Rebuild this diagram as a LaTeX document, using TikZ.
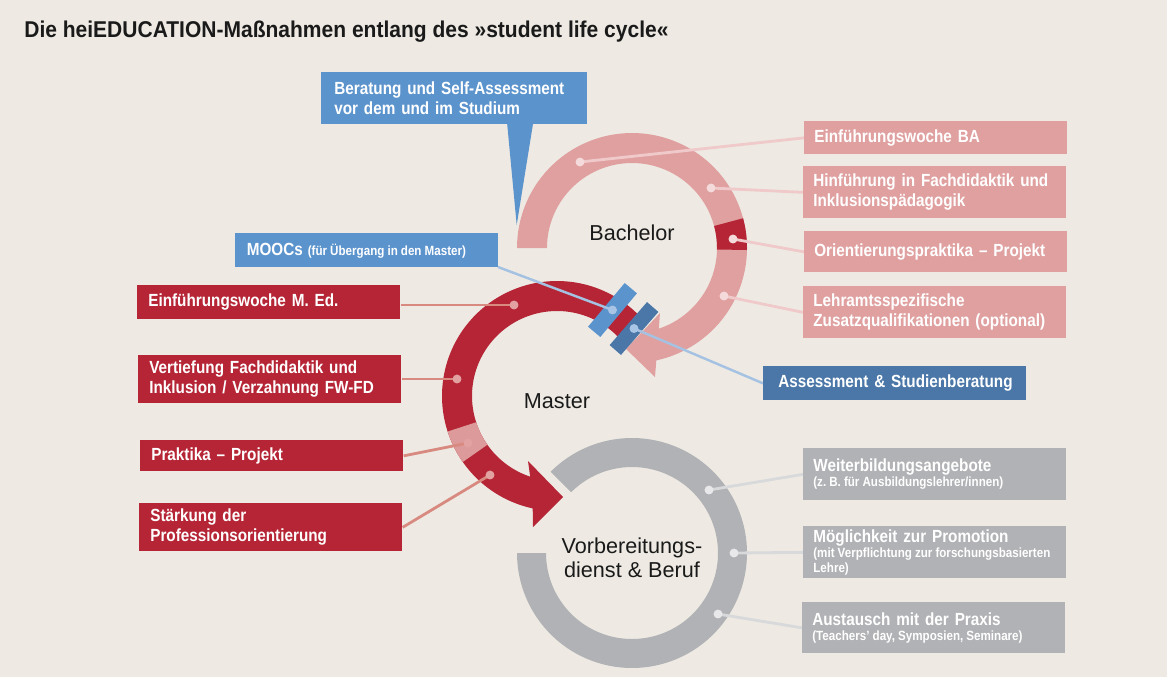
\documentclass[tikz,border=0pt]{standalone}
\usepackage{fontspec}
\setmainfont{Liberation Sans}
\newfontfamily\condf{Liberation Sans}[FakeStretch=0.87]
\newfontfamily\titlef{Liberation Sans}[FakeStretch=0.92]
\newcommand\bxfont{\condf\bfseries\fontsize{10}{11.4}\selectfont\frenchspacing\spaceskip=0.23em plus 0.1em minus 0.05em\relax}
\newcommand\smfont[1]{\fontsize{7.6}{#1}\selectfont\spaceskip=0.23em plus 0.1em minus 0.05em\relax}
\usetikzlibrary{calc}
\definecolor{bgc}{HTML}{EEEAE3}
\definecolor{bachc}{HTML}{E0A0A0}
\definecolor{redc}{HTML}{B52535}
\definecolor{lredc}{HTML}{DC9A9A}
\definecolor{bluec}{HTML}{5B93CD}
\definecolor{dbluec}{HTML}{4A77A8}
\definecolor{grayc}{HTML}{B1B2B5}
\definecolor{bachline}{HTML}{F0CACA}
\definecolor{bachdot}{HTML}{F4DADA}
\definecolor{mline}{HTML}{D88A80}
\definecolor{mdot}{HTML}{E2A2A2}
\definecolor{blline}{HTML}{A6C2E2}
\definecolor{bldot}{HTML}{A9C5E5}
\definecolor{gline}{HTML}{D8D9DB}
\definecolor{gdot}{HTML}{E8E8EA}
\definecolor{inkc}{HTML}{1A1A1A}
\pgfdeclarelayer{back}
\pgfdeclarelayer{mid}
\pgfsetlayers{back,mid,main}
\begin{document}
\begin{tikzpicture}[x=0.02cm,y=-0.02cm,
  boxbase/.style={rectangle, anchor=north west, inner ysep=0pt, align=left, text=white,
    font=\bxfont},
  rbox/.style={boxbase, fill=bachc, inner xsep=5.69pt, text width=138.28pt},
  gbox/.style={boxbase, fill=grayc, inner xsep=5.69pt, text width=138.28pt},
  lbox/.style={boxbase, fill=redc, inner xsep=6.26pt, text width=137.14pt},
  dotst/.style={circle, inner sep=0pt, minimum size=5.1pt},
  bachln/.style={draw=bachline, line width=1.6pt},
  mln/.style={draw=mline, line width=1.6pt},
  bluln/.style={draw=blline, line width=1.4pt},
  grln/.style={draw=gline, line width=1.6pt},
  ringlabel/.style={text=inkc, font=\fontsize{12.3}{14}\selectfont, inner sep=0pt}
]
\useasboundingbox (0,0) rectangle (1167,677);
\begin{pgfonlayer}{back}
\fill[bgc] (0,0) rectangle (1167,677);
% Bachelor ring
\begin{scope}[shift={(632,248)}]
\fill[bachc] plot[domain=-180:77.8,samples=120] (\x:115) -- (23,129) -- (-6,101) -- (28,65)
  -- plot[domain=71.6:-180,samples=120] (\x:85) -- cycle;
\fill[redc] plot[domain=-15:1,samples=20] (\x:115) -- plot[domain=1:-15,samples=20] (\x:85) -- cycle;
\end{scope}
% Master ring
\begin{scope}[shift={(557,396)}]
\fill[redc] plot[domain=-42:-257.8,samples=120] (\x:115) -- (-24,131) -- (6,101) -- (-29,65)
  -- plot[domain=-251.6:-42,samples=120] (\x:85) -- cycle;
\fill[lredc] plot[domain=-215:-198,samples=20] (\x:115) -- plot[domain=-198:-215,samples=20] (\x:85) -- cycle;
\end{scope}
% Vorbereitungsdienst ring
\begin{scope}[shift={(632,553)}]
\fill[grayc] plot[domain=-135:180,samples=150] (\x:115) -- plot[domain=180:-135,samples=150] (\x:86) -- cycle;
\end{scope}
% crossing rectangles
\node[fill=bluec, minimum width=32.44pt, minimum height=9.1pt, inner sep=0pt, rotate=50] (lrect) at (612.5,310) {};
\node[fill=dbluec, minimum width=32.44pt, minimum height=8.54pt, inner sep=0pt, rotate=49] (drect) at (634,328.5) {};
\end{pgfonlayer}

% title
\node[anchor=base west, inner sep=0pt, text=inkc, font=\titlef\bfseries\fontsize{13}{15}\selectfont] (title) at (24,37.5)
  {Die heiEDUCATION-Maßnahmen entlang des »student life cycle«};

% callout
\fill[bluec] (507,122) -- (516.7,225) -- (533.3,122) -- cycle;
\node[boxbase, fill=bluec, inner xsep=7.4pt, text width=136.57pt, minimum height=29.59pt] (callout) at (321,72)
  {\mbox{Beratung und Self-Assessment}\\vor dem und im Studium};

% ring labels
\node[ringlabel] (bachelor) at (632,233) {Bachelor};
\node[ringlabel] (master) at (557,401) {Master};
\node[ringlabel, align=center, font=\fontsize{12.3}{13.8}\selectfont] (vorb) at (632,558) {Vorbereitungs-\\dienst \& Beruf};

% right pink boxes
\node[rbox, minimum height=18.78pt] (rb1) at (804,121) {Einführungswoche BA};
\node[rbox, minimum height=29.59pt] (rb2) at (803,166) {\mbox{Hinführung in Fachdidaktik und}\\Inklusionspädagogik};
\node[rbox, minimum height=23.33pt] (rb3) at (804,231) {Orientierungspraktika – Projekt};
\node[rbox, minimum height=29.59pt] (rb4) at (803,286) {Lehramtsspezifische\\\mbox{Zusatzqualifikationen (optional)}};

% assessment
\node[boxbase, fill=dbluec, inner xsep=8.54pt, text width=132.59pt, minimum height=19.35pt] (assess) at (763,366)
  {\mbox{Assessment \& Studienberatung}};

% gray boxes
\node[gbox, minimum height=29.59pt] (gw) at (803,448)
  {Weiterbildungsangebote\par{\smfont{8.7}\mbox{(z. B. für Ausbildungslehrer/innen)}\par}};
\node[gbox, minimum height=29.59pt] (gm) at (803,526)
  {Möglichkeit zur Promotion\par{\smfont{8.5}\mbox{(mit Verpflichtung zur forschungsbasierten}\\Lehre)\par}};
\node[gbox, minimum height=29.02pt] (ga) at (802,602)
  {Austausch mit der Praxis\par{\smfont{8.7}\mbox{(Teachers’ day, Symposien, Seminare)}\par}};

% MOOCs box
\fill[bluec] (235,233) rectangle (498,267);
\coordinate (moocsSE) at (498,267);
\node[anchor=base west, inner sep=0pt, text=white, font=\bxfont] (moocs) at (246.5,255.5)
  {MOOCs\hspace{2.8pt}{\smfont{9}(für Übergang in den Master)}};

% left boxes
\node[lbox, minimum height=19.35pt] (lb1) at (137,285) {Einführungswoche M. Ed.};
\node[lbox, minimum height=27.31pt] (lb2) at (138,355) {\mbox{Vertiefung Fachdidaktik und}\\\mbox{Inklusion / Verzahnung FW-FD}};
\node[lbox, minimum height=17.64pt] (lb3) at (140,440) {Praktika – Projekt};
\node[lbox, minimum height=27.31pt] (lb4) at (139,503) {Stärkung der\\Professionsorientierung};

% dots
\node[dotst, fill=bachdot] (bd1) at (580,162) {};
\node[dotst, fill=bachdot] (bd2) at (711,188) {};
\node[dotst, fill=bachdot] (bd3) at (733,239) {};
\node[dotst, fill=bachdot] (bd4) at (724,296) {};
\node[dotst, fill=mdot] (md1) at (514,305) {};
\node[dotst, fill=mdot] (md2) at (457,379) {};
\node[dotst, fill=mdot] (md3) at (468,443) {};
\node[dotst, fill=mdot] (md4) at (490,475) {};
\node[dotst, fill=gdot] (gd1) at (709,490) {};
\node[dotst, fill=gdot] (gd2) at (734,553) {};
\node[dotst, fill=gdot] (gd3) at (718,614) {};
\node[dotst, fill=bldot] (ld) at (lrect.center) {};
\node[dotst, fill=bldot] (dd) at (drect.center) {};

\begin{pgfonlayer}{mid}
\draw[bachln] (bd1.center) -- (rb1.west);
\draw[bachln] (bd2.center) -- (rb2.west);
\draw[bachln] (bd3.center) -- (rb3.west);
\draw[bachln] (bd4.center) -- (rb4.west);
\draw[mln] (md1.center) -- (md1.center -| lb1.east);
\draw[mln] (md2.center) -- (md2.center -| lb2.east);
\draw[mln] (md3.center) -- (lb3.east);
\draw[mln] (md4.center) -- (lb4.east);
\draw[grln] (gd1.center) -- (gw.west);
\draw[grln] (gd2.center) -- (gm.west);
\draw[grln] (gd3.center) -- (ga.west);
\draw[bluln] (ld.center) -- (moocsSE);
\draw[bluln] (dd.center) -- (assess.west);
\end{pgfonlayer}
\end{tikzpicture}
\end{document}
